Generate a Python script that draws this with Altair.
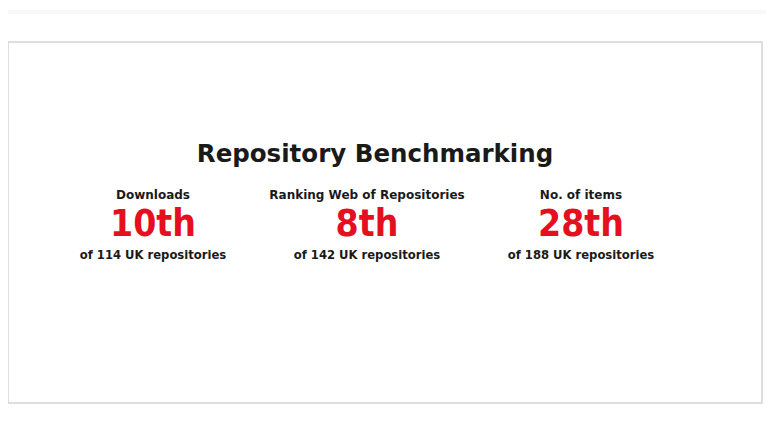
import altair as alt
import pandas as pd

title_text = "Repository Benchmarking"
metrics = ["Downloads", "Ranking Web of Repositories", "No. of items"]
ranks = ["10th", "8th", "28th"]
totals = [114, 142, 188]

df = pd.DataFrame({
    "metric": metrics,
    "rank": ranks,
    "sub": [f"of {t} UK repositories" for t in totals],
})

W, H = 754, 361
xscale = alt.Scale(type="point", domain=metrics, range=[145, 573], padding=0)
xenc = alt.X("metric:N", scale=xscale, axis=None)

base = alt.Chart(df)

label = base.mark_text(font="DejaVu Sans", fontWeight="bold", fontSize=12,
                       color="#1a1a1a", baseline="middle").encode(
    x=xenc, y=alt.value(153), text="metric:N")

rank = base.mark_text(font="DejaVu Sans Condensed", fontWeight="bold", fontSize=37,
                      color="#e5101f", baseline="alphabetic").encode(
    x=xenc, y=alt.value(194), text="rank:N")

sub = base.mark_text(font="DejaVu Sans", fontWeight="bold", fontSize=11.6,
                     color="#1a1a1a", baseline="middle").encode(
    x=xenc, y=alt.value(214), text="sub:N")

title = alt.Chart(pd.DataFrame({"t": [title_text]})).mark_text(
    font="DejaVu Sans", fontWeight="bold", fontSize=24.5, color="#1a1a1a",
    baseline="alphabetic").encode(x=alt.value(367), y=alt.value(120), text="t:N")

topband = alt.Chart(pd.DataFrame({"a": [0]})).mark_rect(color="#f9f9f9").encode(
    x=alt.value(-8), x2=alt.value(W + 12), y=alt.value(-32), y2=alt.value(-28))

chart = alt.layer(topband, title, label, rank, sub).properties(
    width=W, height=H,
    padding={"left": 0, "top": 34, "right": 4, "bottom": 19},
    autosize=alt.AutoSizeParams(type="none"),
    background="white",
).configure_view(stroke="#d4d4d4", strokeWidth=1.5)

chart.save("out.html", embed_options={"renderer": "svg", "actions": False})
